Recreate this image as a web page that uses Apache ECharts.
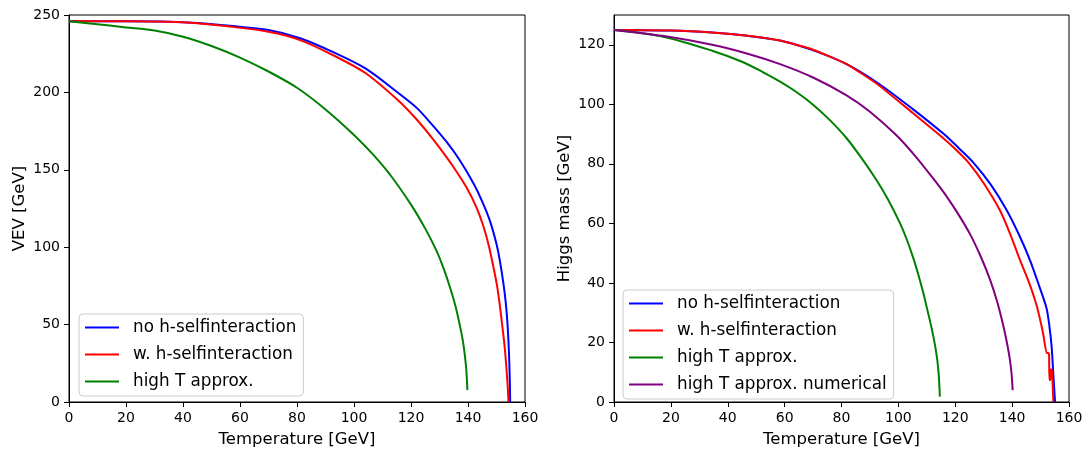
<!DOCTYPE html>
<html>
<head>
<meta charset="utf-8">
<script src="https://cdn.jsdelivr.net/npm/echarts@6/dist/echarts.min.js"></script>
<style>
html,body{margin:0;padding:0;background:#fff;}
#chart{width:1091px;height:454px;}
</style>
</head>
<body>
<div id="chart"></div>
<script>
// ---- Data ----
const xTicks = [0, 20, 40, 60, 80, 100, 120, 140, 160];
const vevTicks = [0, 50, 100, 150, 200, 250];
const massTicks = [0, 20, 40, 60, 80, 100, 120];

const names = ['no h-selfinteraction', 'w. h-selfinteraction', 'high T approx.', 'high T approx. numerical'];

// Left panel: VEV vs temperature
const blueLT = [0, 20, 35, 45, 56.5, 70, 81.1, 92.7, 104, 116, 122, 127, 132.5, 137, 141.9, 145, 147.7, 150, 151.2, 152.4, 153.2, 153.8, 154.2, 154.5, 154.7, 154.8];
const blueLV = [246, 246, 245.7, 244.8, 243, 240.3, 235, 226, 215.5, 199, 190, 180, 168, 156.5, 141.3, 129.5, 117, 102, 91, 77, 65, 52, 39, 25, 11, 0];

const redLT = [0, 20, 35, 45, 56.5, 70, 81.1, 92.7, 104, 116, 122, 127, 130.2, 135, 139.5, 143, 145.4, 147.3, 148.9, 150.2, 151.2, 152.1, 152.9, 153.6, 154, 154.2];
const redLV = [246, 246, 245.6, 244.6, 242.5, 239.2, 233.8, 224, 212.5, 194, 182.5, 171.5, 163.8, 151.5, 138.5, 125.5, 113.5, 101, 87.4, 75, 62, 48, 35, 19, 8, 0];

const greenLT = [0, 10, 20, 30, 40, 50, 60, 70, 80, 90, 100, 106.8, 113, 120, 125, 129, 131.5, 133.7, 135.6, 137.2, 138.2, 138.9, 139.4, 139.8];
const greenLV = [246, 244, 242, 240, 236, 230, 222.5, 213.5, 203, 189, 172.5, 159.6, 146, 127.5, 112, 97.5, 86, 74, 62, 49, 39.5, 30, 21, 7.7];

// Right panel: Higgs mass vs temperature
const blueRT = [0, 20, 34.5, 47, 58.4, 69.6, 81.8, 93, 105.2, 116, 121, 126.3, 132.5, 138.1, 142.5, 146.3, 149.5, 152.1, 153.1, 153.9, 154.5, 155.1];
const blueRV = [125, 124.8, 124.1, 123, 121.4, 118.3, 113.5, 107, 98.3, 90, 85.5, 80.5, 73, 64.4, 56, 47.6, 39, 31.5, 25.5, 18.5, 9, 0];

const redRT = [0, 20, 34.5, 47, 58.4, 69.6, 81.8, 93, 105.2, 115, 120, 124.6, 130, 135.7, 139.5, 142.8, 146, 148.6, 150, 151, 152.1, 152.7, 153, 153.1, 153.5, 153.6, 154, 154.5];
const redRV = [125, 124.8, 124.1, 123, 121.4, 118.5, 113.5, 106.5, 97, 89.3, 85, 80.5, 73.5, 64.4, 56, 47.6, 40, 32.5, 27, 22.5, 16.5, 16.5, 16, 7.4, 7.4, 11, 10.7, 0];

const greenRT = [0, 17, 34.5, 45, 52, 58.4, 64, 70.1, 76, 81.8, 87, 92.4, 96.5, 100.6, 103, 105.2, 107.1, 108.8, 110.3, 111.7, 112.8, 113.7, 114.2, 114.6];
const greenRV = [125, 122.8, 118, 114.3, 111, 107.6, 104.2, 99.8, 94.6, 88.6, 82, 74.4, 67.8, 60, 54.5, 48.5, 42.5, 36.5, 30.5, 24.8, 19.5, 14, 9, 1.8];

const purpleRT = [0, 17, 34.5, 47, 58.4, 70, 81.8, 90, 99.4, 106.3, 112.3, 117, 121, 125.2, 129, 132.2, 134.8, 136.9, 138.3, 139.2, 139.8, 140.2];
const purpleRV = [125, 123, 120, 117, 113.5, 109, 103, 97.5, 89.5, 82.2, 75, 69, 63.2, 56.4, 48.8, 41.2, 33.5, 25.6, 19.3, 14.3, 9.5, 4];

// ---- Chart ----
const FONT = 'DejaVu Sans';
const pairs = (xs, ys) => xs.map((x, i) => [x, ys[i]]);
const colors = ['#0000ff', '#ff0000', '#008000', '#800080'];

function xAxisCfg(gridIndex) {
  return {
    type: 'value', gridIndex, min: 0, max: 160, interval: 20,
    name: 'Temperature [GeV]', nameLocation: 'middle', nameGap: 29,
    nameTextStyle: { fontFamily: FONT, fontSize: 16.5, color: '#000' },
    axisLine: { show: true, onZero: false, lineStyle: { color: '#000', width: 1 } },
    axisTick: { show: true, inside: false, length: 5, lineStyle: { color: '#000', width: 1 }, customValues: xTicks },
    axisLabel: { color: '#000', fontFamily: FONT, fontSize: 14, margin: 9, customValues: xTicks },
    splitLine: { show: false }
  };
}
function yAxisCfg(gridIndex, max, interval, ticks, name) {
  return {
    type: 'value', gridIndex, min: 0, max, interval,
    name, nameLocation: 'middle', nameGap: 41,
    nameTextStyle: { fontFamily: FONT, fontSize: 16.5, color: '#000' },
    axisLine: { show: true, onZero: false, lineStyle: { color: '#000', width: 1 } },
    axisTick: { show: true, inside: false, length: 5, lineStyle: { color: '#000', width: 1 }, customValues: ticks },
    axisLabel: { color: '#000', fontFamily: FONT, fontSize: 14, margin: 9, customValues: ticks },
    splitLine: { show: false }
  };
}
function lineSeries(name, xi, yi, data, color, smooth) {
  return {
    type: 'line', name, xAxisIndex: xi, yAxisIndex: yi, data,
    showSymbol: false, symbol: 'none', smooth: smooth, animation: false,
    lineStyle: { color, width: 2 }, itemStyle: { color },
    clip: true
  };
}
function legendCfg(left, top, data) {
  return {
    orient: 'vertical', left, top, data,
    icon: 'rect', itemWidth: 34, itemHeight: 2, itemGap: 10,
    padding: [5, 7, 6, 6],
    backgroundColor: 'rgba(255,255,255,0.8)',
    borderColor: '#cccccc', borderWidth: 1, borderRadius: 4,
    selectedMode: false,
    textStyle: { fontFamily: FONT, fontSize: 16.8, color: '#000', lineHeight: 16, padding: [0, 0, 0, 9] }
  };
}

const chart = echarts.init(document.getElementById('chart'), null, { renderer: 'canvas' });
chart.setOption({
  animation: false,
  backgroundColor: '#fff',
  grid: [
    { left: 69, right: 566, top: 15, bottom: 52, show: true, borderColor: '#000', borderWidth: 1, backgroundColor: 'transparent', containLabel: false },
    { left: 614, right: 22, top: 15, bottom: 52, show: true, borderColor: '#000', borderWidth: 1, backgroundColor: 'transparent', containLabel: false }
  ],
  xAxis: [xAxisCfg(0), xAxisCfg(1)],
  yAxis: [
    yAxisCfg(0, 250, 50, vevTicks, 'VEV [GeV]'),
    yAxisCfg(1, 130, 10, massTicks, 'Higgs mass [GeV]')
  ],
  legend: [
    legendCfg(79, 314, names.slice(0, 3)),
    legendCfg(623, 290, names.slice(0, 4))
  ],
  series: [
    lineSeries(names[0], 0, 0, pairs(blueLT, blueLV), colors[0], 0.3),
    lineSeries(names[1], 0, 0, pairs(redLT, redLV), colors[1], 0.3),
    lineSeries(names[2], 0, 0, pairs(greenLT, greenLV), colors[2], 0.3),
    lineSeries(names[0], 1, 1, pairs(blueRT, blueRV), colors[0], 0.3),
    lineSeries(names[1], 1, 1, pairs(redRT, redRV), colors[1], 0.15),
    lineSeries(names[2], 1, 1, pairs(greenRT, greenRV), colors[2], 0.3),
    lineSeries(names[3], 1, 1, pairs(purpleRT, purpleRV), colors[3], 0.3)
  ]
});
</script>
</body>
</html>
